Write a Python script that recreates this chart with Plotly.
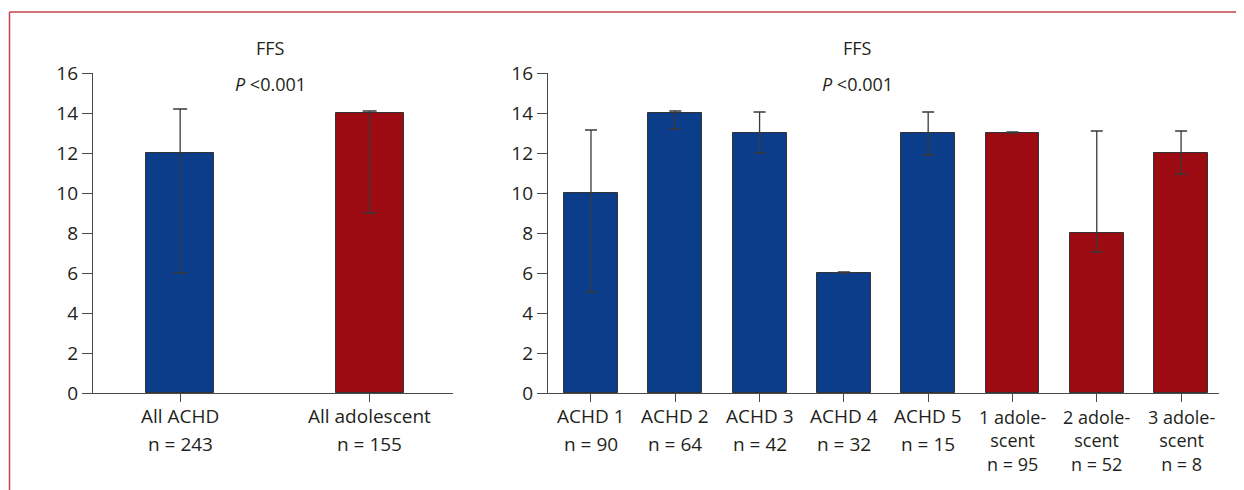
import plotly.graph_objects as go

# ---- data ----
left_cats = ["All ACHD", "All adolescent"]
left_labels = [["All ACHD", "n = 243"], ["All adolescent", "n = 155"]]
left_vals = [12, 14]
left_err_plus = [2.2, 0.1]
left_err_minus = [6, 5]
left_colors = ["#0b3d8b", "#9c0a12"]

right_cats = ["ACHD 1", "ACHD 2", "ACHD 3", "ACHD 4", "ACHD 5",
              "1 adolescent", "2 adolescent", "3 adolescent"]
right_labels = [["ACHD 1", "n = 90"], ["ACHD 2", "n = 64"], ["ACHD 3", "n = 42"],
                ["ACHD 4", "n = 32"], ["ACHD 5", "n = 15"],
                ["1 adole-", "scent", "n = 95"], ["2 adole-", "scent", "n = 52"],
                ["3 adole-", "scent", "n = 8"]]
right_vals = [10, 14, 13, 6, 13, 13, 8, 12]
right_err_plus = [3.15, 0.1, 1.05, 0.05, 1.05, 0.05, 5.1, 1.1]
right_err_minus = [4.95, 0.8, 1.0, 0.0, 1.1, 0.0, 0.95, 1.05]
right_colors = ["#0b3d8b"] * 5 + ["#9c0a12"] * 3

y_ticks = [0, 2, 4, 6, 8, 10, 12, 14, 16]
title_main = "FFS"
title_p = "<i>P</i> <0.001"

# page has an 8px body margin; compensate
OFF = 8
W, H = 1244 - OFF, 490 - OFF
FONT = "Open Sans"
TXT = "#231f20"
AX = "#4a4a4a"
FS = 19

def px_x(p):
    return (p - OFF) / W

def px_y(p):
    return 1 - (p - OFF) / H

fig = go.Figure()

fig.add_trace(go.Bar(
    x=list(range(len(left_cats))), y=left_vals, width=0.36,
    marker=dict(color=left_colors, line=dict(color="#333333", width=1)),
    error_y=dict(type="data", symmetric=False, array=left_err_plus,
                 arrayminus=left_err_minus, color="#3a3a3a", thickness=1.3, width=7),
    xaxis="x", yaxis="y", showlegend=False, hoverinfo="skip"))

fig.add_trace(go.Bar(
    x=list(range(len(right_cats))), y=right_vals, width=0.64,
    marker=dict(color=right_colors, line=dict(color="#333333", width=1)),
    error_y=dict(type="data", symmetric=False, array=right_err_plus,
                 arrayminus=right_err_minus, color="#3a3a3a", thickness=1.3, width=6),
    xaxis="x2", yaxis="y2", showlegend=False, hoverinfo="skip"))

ydom = [px_y(393), px_y(73)]
yax = dict(range=[0, 16], tickvals=y_ticks, ticks="outside", ticklen=10, tickwidth=1.2,
           tickcolor=AX, showline=True, linecolor=AX, linewidth=1.2, showgrid=False,
           zeroline=False, automargin=False,
           tickfont=dict(family=FONT, size=FS, color=TXT), domain=ydom)
xcommon = dict(ticks="outside", ticklen=8, tickwidth=1.2, tickcolor=AX, showline=True,
               linecolor=AX, linewidth=1.2, showgrid=False, zeroline=False,
               showticklabels=False, automargin=False)

fig.update_layout(
    width=W, height=H, margin=dict(l=0, r=0, t=0, b=0),
    paper_bgcolor="white", plot_bgcolor="white", template="none",
    bargap=0,
    xaxis=dict(xcommon, domain=[px_x(93), px_x(453)], range=[-0.46, 1.44],
               tickvals=list(range(len(left_cats))), anchor="y"),
    yaxis=dict(yax, anchor="x"),
    xaxis2=dict(xcommon, domain=[px_x(548), px_x(1219)], range=[-0.51, 7.45],
                tickvals=list(range(len(right_cats))), anchor="y2"),
    yaxis2=dict(yax, anchor="x2"),
)

ann = []
# category labels
for i, lines in enumerate(left_labels):
    for j, t in enumerate(lines):
        ann.append(dict(x=i, y=px_y(416 + 28 * j), xref="x", yref="paper", text=t,
                        showarrow=False, font=dict(family=FONT, size=FS, color=TXT),
                        xanchor="center", yanchor="middle"))
for i, lines in enumerate(right_labels):
    if len(lines) == 2:
        for j, t in enumerate(lines):
            ann.append(dict(x=i, y=px_y(416 + 28 * j), xref="x2", yref="paper", text=t,
                            showarrow=False, font=dict(family=FONT, size=FS, color=TXT),
                            xanchor="center", yanchor="middle"))
    else:
        ann.append(dict(x=i, y=px_y(440.5), xref="x2", yref="paper",
                        text="<br>".join(lines), align="center",
                        showarrow=False, font=dict(family=FONT, size=18, color=TXT),
                        xanchor="center", yanchor="middle"))
# titles
for cx in (270, 857):
    ann.append(dict(x=px_x(cx), y=px_y(48), xref="paper", yref="paper", text=title_main,
                    showarrow=False, font=dict(family=FONT, size=18, color=TXT),
                    xanchor="center", yanchor="middle"))
    ann.append(dict(x=px_x(cx), y=px_y(84), xref="paper", yref="paper", text=title_p,
                    showarrow=False, font=dict(family=FONT, size=18, color=TXT),
                    xanchor="center", yanchor="middle"))
fig.update_layout(annotations=ann)

# red frame (top and left)
fig.add_shape(type="line", xref="paper", yref="paper", x0=px_x(9.5), x1=1.0,
              y0=px_y(12), y1=px_y(12), line=dict(color="#c2454d", width=1.5))
fig.add_shape(type="line", xref="paper", yref="paper", x0=px_x(9.5), x1=px_x(9.5),
              y0=px_y(12), y1=0, line=dict(color="#c2454d", width=1.5))

fig.write_html("out.html")
